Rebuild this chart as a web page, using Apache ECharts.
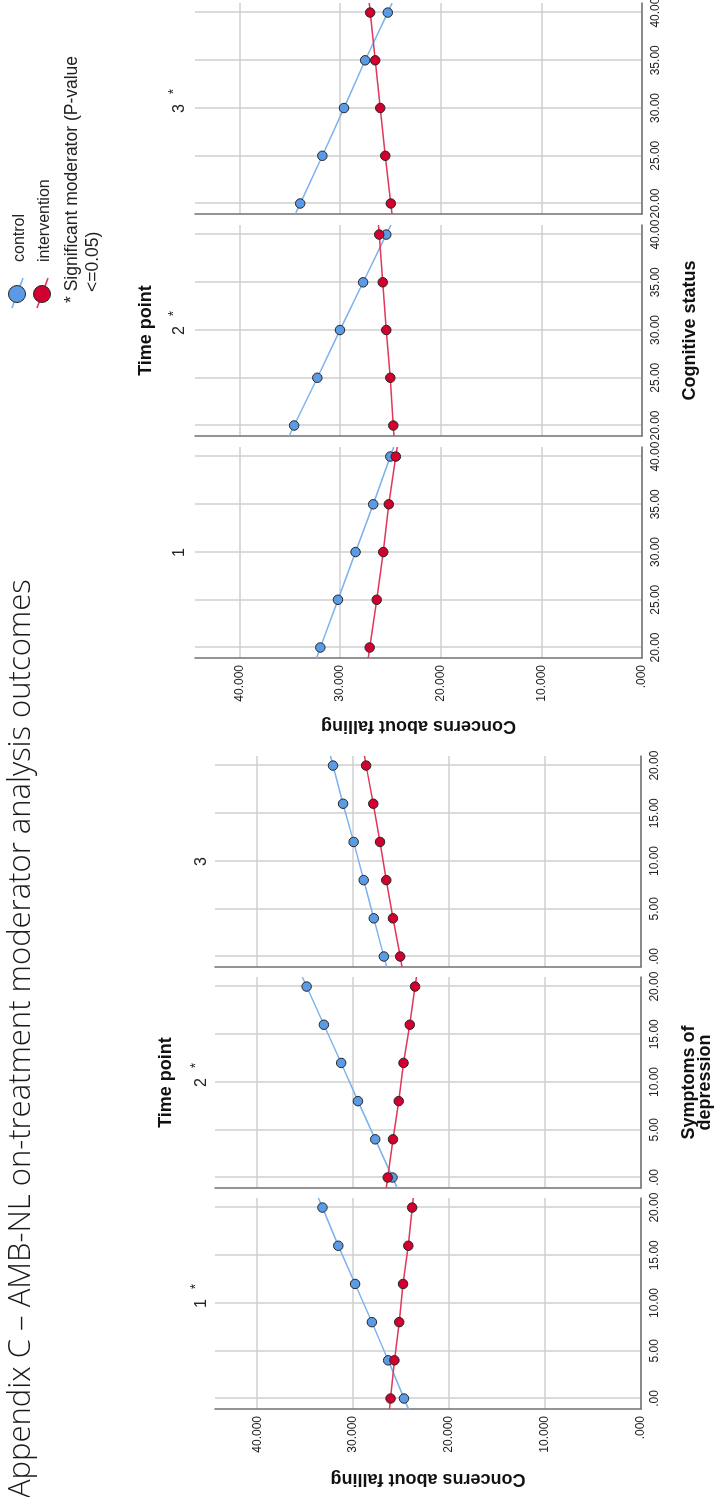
<!DOCTYPE html>
<html>
<head>
<meta charset="utf-8">
<title>AMB-NL on-treatment moderator analysis</title>
<script src="https://cdn.jsdelivr.net/npm/echarts@6/dist/echarts.min.js"></script>
<style>
  html, body { margin: 0; padding: 0; background: #fff; overflow: hidden; }
  #page { width: 717px; height: 1497px; position: relative; overflow: hidden; }
  /* the whole figure sits on its side, like the landscape page it came from */
  #chart { position: absolute; left: 0; top: 0; width: 1497px; height: 717px;
           transform-origin: 0 0; transform: translateY(1497px) rotate(-90deg); }
</style>
</head>
<body>
<div id="page"><div id="chart"></div></div>
<script>
// Values
const depX = [0, 4, 8, 12, 16, 20];
const depControl1 = [24.7, 26.35, 28.05, 29.8, 31.55, 33.2];
const depInterv1 = [26.1, 25.7, 25.2, 24.8, 24.25, 23.85];
const depControl2 = [25.9, 27.7, 29.5, 31.25, 33.05, 34.85];
const depInterv2 = [26.4, 25.85, 25.25, 24.75, 24.1, 23.55];
const depControl3 = [26.8, 27.85, 28.9, 29.95, 31.05, 32.1];
const depInterv3 = [25.1, 25.85, 26.55, 27.2, 27.9, 28.65];

const cogX = [20, 25, 30, 35, 40];
const cogControl1 = [31.95, 30.2, 28.45, 26.7, 25.0];
const cogInterv1 = [27.05, 26.35, 25.7, 25.15, 24.45];
const cogControl2 = [34.55, 32.25, 30.0, 27.7, 25.4];
const cogInterv2 = [24.7, 25.0, 25.4, 25.75, 26.1];
const cogControl3 = [33.95, 31.75, 29.6, 27.5, 25.25];
const cogInterv3 = [24.95, 25.5, 26.0, 26.5, 27.0];

const depTicks = [0, 5, 10, 15, 20];
const depTickLabels = ['.00', '5.00', '10.00', '15.00', '20.00'];
const cogTicks = [20, 25, 30, 35, 40];
const cogTickLabels = ['20.00', '25.00', '30.00', '35.00', '40.00'];
const valTicks = [0, 10, 20, 30, 40];
const valTickLabels = ['.000', '10.000', '20.000', '30.000', '40.000'];

const timePoints = ['1', '2', '3'];
const depStars = [true, true, false];
const cogStars = [false, true, true];

// Drawing setup
const FONT = "'Liberation Sans', Arial, sans-serif";
const BLUE = '#5b9be6', BLUE_LINE = '#7db2ee';
const RED = '#d2002e', RED_LINE = '#e2365a';
const GRID_GRAY = '#cfcfcf', AXIS_GRAY = '#707070';

const blocks = [
  { axisX: 88, pitch: 221, width: 211, top: 215, bottom: 641, xMin: -1.1, xMax: 21.0,
    xs: depX, ticks: depTicks, tickLabels: depTickLabels, stars: depStars,
    control: [depControl1, depControl2, depControl3], interv: [depInterv1, depInterv2, depInterv3],
    xName: 'Symptoms of\ndepression', xNameGap: 40, yNameGap: 61, headY: 166, panelY: 202 },
  { axisX: 839, pitch: 222, width: 211, top: 195, bottom: 642, xMin: 18.9, xMax: 41.0,
    xs: cogX, ticks: cogTicks, tickLabels: cogTickLabels, stars: cogStars,
    control: [cogControl1, cogControl2, cogControl3], interv: [cogInterv1, cogInterv2, cogInterv3],
    xName: 'Cognitive status', xNameGap: 40, yNameGap: 59, headY: 146, panelY: 180 }
];

// straight fit line through the read points, carried on to the panel edges
function fitLine(xs, ys, xMin, xMax) {
  const n = xs.length - 1;
  const slope = (ys[n] - ys[0]) / (xs[n] - xs[0]);
  const pts = xs.map((x, i) => [x, ys[i]]);
  return [[xMin, ys[0] + slope * (xMin - xs[0])], ...pts, [xMax, ys[n] + slope * (xMax - xs[n])]];
}

const grid = [], xAxis = [], yAxis = [], series = [], graphic = [];

blocks.forEach(b => {
  for (let i = 0; i < 3; i++) {
    const k = grid.length;
    const left = b.axisX + i * b.pitch;
    grid.push({ left, top: b.top, width: b.width, height: b.bottom - b.top, outerBoundsMode: 'none' });
    xAxis.push({
      type: 'value', gridIndex: k, min: b.xMin, max: b.xMax,
      axisLine: { onZero: false, lineStyle: { color: AXIS_GRAY, width: 1.5 } },
      axisTick: { show: false, customValues: b.ticks },
      axisLabel: {
        customValues: b.ticks, margin: 8, fontSize: 12, color: '#222', fontFamily: FONT,
        formatter: v => b.tickLabels[b.ticks.indexOf(v)] || ''
      },
      splitLine: { show: true, lineStyle: { color: GRID_GRAY, width: 1.5 } },
      name: i === 1 ? b.xName : '', nameLocation: 'middle', nameGap: b.xNameGap,
      nameTextStyle: { fontFamily: FONT, fontWeight: 'bold', fontSize: 18, lineHeight: 16, color: '#111' }
    });
    yAxis.push({
      type: 'value', gridIndex: k, min: 0, max: 44.4,
      axisLine: { show: true, onZero: false, lineStyle: { color: AXIS_GRAY, width: 1.5 } },
      axisTick: { show: false, customValues: valTicks },
      axisLabel: {
        show: i === 0, customValues: valTicks, margin: 7, fontSize: 12, color: '#222', fontFamily: FONT,
        formatter: v => valTickLabels[valTicks.indexOf(v)] || ''
      },
      splitLine: { show: true, lineStyle: { color: GRID_GRAY, width: 1.5 } },
      name: i === 0 ? 'Concerns about falling' : '', nameLocation: 'middle', nameGap: b.yNameGap, nameRotate: 90,
      nameTextStyle: { fontFamily: FONT, fontWeight: 'bold', fontSize: 18, color: '#111' }
    });

    [[b.control[i], BLUE_LINE, 'control'], [b.interv[i], RED_LINE, 'intervention']].forEach(([ys, lc, nm]) => {
      series.push({
        type: 'line', name: nm, xAxisIndex: k, yAxisIndex: k, data: fitLine(b.xs, ys, b.xMin, b.xMax),
        showSymbol: false, symbol: 'none', lineStyle: { color: lc, width: 1.5 }, z: 2, silent: true
      });
    });
    [[b.control[i], BLUE, 'control'], [b.interv[i], RED, 'intervention']].forEach(([ys, c, nm]) => {
      series.push({
        type: 'scatter', name: nm, xAxisIndex: k, yAxisIndex: k,
        data: b.xs.map((x, j) => [x, ys[j]]), symbolSize: 9.5,
        itemStyle: { color: c, borderColor: '#262626', borderWidth: 1, opacity: 1 }, z: 3
      });
    });

    // panel header: time point number, with a raised star when significant
    const cx = left + b.width / 2;
    graphic.push({ type: 'text', x: cx, y: b.panelY,
      style: { text: timePoints[i], font: '16px ' + FONT, fill: '#222', align: 'center', verticalAlign: 'middle' } });
    if (b.stars[i]) {
      graphic.push({ type: 'text', x: cx + 17, y: b.panelY - 6,
        style: { text: '*', font: '14px ' + FONT, fill: '#222', align: 'center', verticalAlign: 'middle' } });
    }
  }
  graphic.push({ type: 'text', x: b.axisX + b.pitch + b.width / 2, y: b.headY,
    style: { text: 'Time point', font: 'bold 18px ' + FONT, fill: '#111', align: 'center', verticalAlign: 'middle' } });
});

// legend drawn by hand: circle with a short line through it
[['control', BLUE, BLUE_LINE, 17], ['intervention', RED, RED_LINE, 42]].forEach(([txt, c, lc, y]) => {
  graphic.push({ type: 'line', shape: { x1: 1189, y1: y - 5, x2: 1219, y2: y + 6 }, style: { stroke: lc, lineWidth: 1.5 } });
  graphic.push({ type: 'circle', shape: { cx: 1203, cy: y, r: 8.5 }, style: { fill: c, stroke: '#262626', lineWidth: 1 } });
  graphic.push({ type: 'text', x: 1235, y: y + 3,
    style: { text: txt, font: '16px ' + FONT, fill: '#222', verticalAlign: 'middle' } });
});
graphic.push({ type: 'text', x: 1194, y: 72,
  style: { text: '* Significant moderator (P-value', font: '17.5px ' + FONT, fill: '#222', verticalAlign: 'middle' } });
graphic.push({ type: 'text', x: 1205, y: 93,
  style: { text: '<=0.05)', font: '17.5px ' + FONT, fill: '#222', verticalAlign: 'middle' } });

const myChart = echarts.init(document.getElementById('chart'), null, { renderer: 'canvas' });
myChart.setOption({
  animation: false,
  backgroundColor: '#ffffff',
  title: {
    text: 'Appendix C – AMB-NL on-treatment moderator analysis outcomes',
    left: -6, top: 1,
    textStyle: { fontFamily: "'Open Sans', 'Noto Sans', sans-serif", fontWeight: 300, fontSize: 31, color: '#1a1a1a' }
  },
  grid, xAxis, yAxis, series, graphic
});
</script>
</body>
</html>
